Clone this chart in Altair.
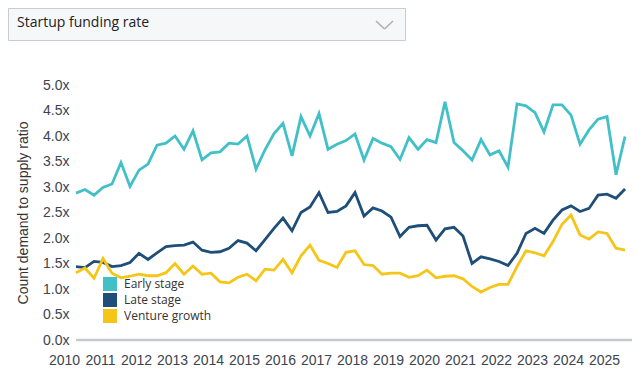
import altair as alt
import pandas as pd

# ---- data -------------------------------------------------------------
start_year = 2010
series_names = ["Early stage", "Late stage", "Venture growth"]
series_colors = ["#41c0c7", "#1f4e79", "#f5c518"]

early = [2.88, 2.95, 2.84, 2.99, 3.06, 3.48, 3.01, 3.33, 3.45, 3.82,
         3.86, 4.00, 3.74, 4.10, 3.53, 3.67, 3.69, 3.86, 3.84, 4.00,
         3.35, 3.73, 4.05, 4.25, 3.61, 4.38, 4.00, 4.44, 3.74, 3.84,
         3.91, 4.04, 3.53, 3.95, 3.86, 3.79, 3.54, 3.97, 3.74, 3.93,
         3.87, 4.67, 3.87, 3.71, 3.53, 3.93, 3.63, 3.71, 3.39, 4.63,
         4.59, 4.46, 4.08, 4.61, 4.61, 4.41, 3.84, 4.12, 4.33, 4.38,
         3.24, 3.99]
late = [1.44, 1.42, 1.54, 1.52, 1.44, 1.46, 1.52, 1.70, 1.58, 1.71,
        1.83, 1.85, 1.86, 1.92, 1.76, 1.72, 1.73, 1.80, 1.95, 1.90,
        1.75, 1.97, 2.19, 2.39, 2.14, 2.50, 2.61, 2.89, 2.50, 2.52,
        2.63, 2.89, 2.43, 2.59, 2.53, 2.41, 2.03, 2.21, 2.24, 2.25,
        1.96, 2.18, 2.21, 2.04, 1.50, 1.63, 1.59, 1.54, 1.46, 1.70,
        2.09, 2.19, 2.09, 2.35, 2.55, 2.63, 2.52, 2.58, 2.84, 2.86,
        2.78, 2.96]
venture = [1.32, 1.41, 1.21, 1.60, 1.31, 1.22, 1.25, 1.29, 1.26, 1.26,
           1.32, 1.50, 1.29, 1.45, 1.29, 1.31, 1.14, 1.12, 1.23, 1.29,
           1.16, 1.39, 1.37, 1.58, 1.32, 1.65, 1.86, 1.56, 1.50, 1.42,
           1.72, 1.75, 1.48, 1.46, 1.29, 1.31, 1.31, 1.23, 1.26, 1.37,
           1.22, 1.25, 1.26, 1.20, 1.05, 0.94, 1.03, 1.09, 1.09, 1.44,
           1.75, 1.71, 1.65, 1.93, 2.27, 2.45, 2.06, 1.98, 2.12, 2.09,
           1.80, 1.76]

year_ticks = list(range(2010, 2026))
y_ticks = [0, 0.5, 1, 1.5, 2, 2.5, 3, 3.5, 4, 4.5, 5]
dropdown_label = "Startup funding rate"
y_title = "Count demand to supply ratio"

rows = []
for name, vals in zip(series_names, [early, late, venture]):
    for i, v in enumerate(vals):
        rows.append({"t": start_year + i / 4, "series": name, "value": v})
df = pd.DataFrame(rows)

AXIS_FONT = "Liberation Sans"
UI_FONT = "Open Sans"
W, H = 556, 255
color_scale = alt.Scale(domain=series_names, range=series_colors)

lines = alt.Chart(df).mark_line(strokeWidth=2.8).encode(
    x=alt.X("t:Q",
            scale=alt.Scale(domain=[2010, 2025.444], nice=False, zero=False),
            axis=alt.Axis(values=year_ticks, format="d", title=None, grid=False,
                          ticks=False, domain=False, labelPadding=13, position=-12,
                          labelFontSize=14, labelColor="#3d4352",
                          labelFont=AXIS_FONT, labelFlush=False,
                          labelOverlap=False)),
    y=alt.Y("value:Q",
            scale=alt.Scale(domain=[0, 5], nice=False),
            axis=alt.Axis(values=y_ticks,
                          labelExpr="format(datum.value, '.1f') + 'x'",
                          title=y_title, grid=False, ticks=False, domain=False,
                          labelPadding=7, labelFontSize=14, labelColor="#3d4352",
                          labelFont=AXIS_FONT, titleFont=AXIS_FONT,
                          titleFontSize=14, titleFontWeight="normal",
                          titleColor="#333333", titlePadding=12)),
    color=alt.Color("series:N", scale=color_scale, legend=None),
)

one = alt.Data(values=[{}])

baseline = alt.Chart(one).mark_rule(color="#c5c9ce", strokeWidth=2.5).encode(
    x=alt.value(0), x2=alt.value(W), y=alt.value(H)
)

# legend (drawn as marks, coloured through the shared colour scale)
legend_layers = []
for k, name in enumerate(series_names):
    d = alt.Data(values=[{"series": name}])
    yk = 199 + 16 * k
    legend_layers.append(
        alt.Chart(d).mark_square(size=196, filled=True, opacity=1).encode(
            x=alt.value(34), y=alt.value(yk),
            color=alt.Color("series:N", scale=color_scale, legend=None))
    )
    legend_layers.append(
        alt.Chart(d).mark_text(align="left", baseline="middle", font=UI_FONT,
                               fontSize=12, color="#333333").encode(
            x=alt.value(48), y=alt.value(yk), text="series:N")
    )

box = alt.Chart(one).mark_rect(fill="#f5f7f9", stroke="#c8ccd1", strokeWidth=1).encode(
    x=alt.value(-67.5), x2=alt.value(329.5), y=alt.value(-76.5), y2=alt.value(-44.5)
)
box_text = alt.Chart(one).mark_text(align="left", baseline="middle", font=UI_FONT,
                                    fontSize=14, color="#222222").encode(
    x=alt.value(-59), y=alt.value(-62), text=alt.value(dropdown_label)
)
chev1 = alt.Chart(one).mark_rule(color="#aab0b6", strokeWidth=1.5).encode(
    x=alt.value(300), y=alt.value(-64), x2=alt.value(308.5), y2=alt.value(-56)
)
chev2 = alt.Chart(one).mark_rule(color="#aab0b6", strokeWidth=1.5).encode(
    x=alt.value(308.5), y=alt.value(-56), x2=alt.value(317), y2=alt.value(-64)
)

chart = alt.layer(box, box_text, chev1, chev2, baseline, lines, *legend_layers).properties(
    width=W, height=H,
    autosize=alt.AutoSizeParams(type="none"),
    padding={"left": 68, "top": 77, "right": 0, "bottom": 32},
    background="white",
).configure_view(stroke=None)

chart.save("out.html", embed_options={"renderer": "svg", "actions": False})
